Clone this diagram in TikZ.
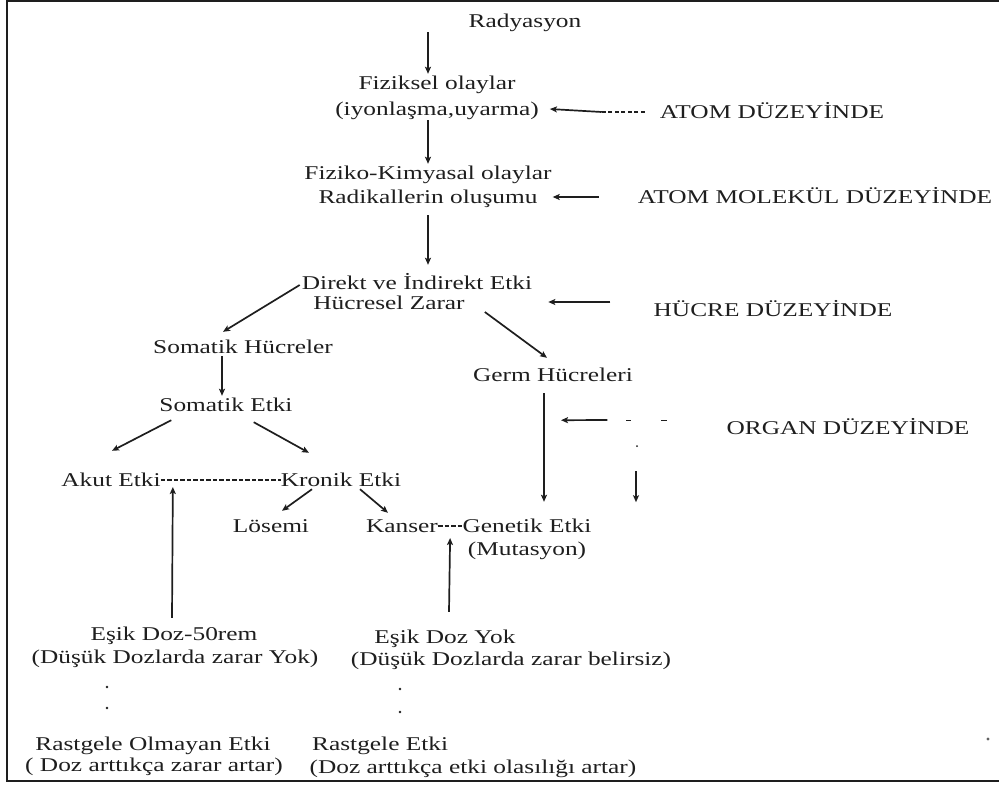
\documentclass[tikz,border=0pt]{standalone}
\usepackage{fontspec}
\setmainfont{Liberation Serif}[FakeStretch=1.3]
\usetikzlibrary{arrows.meta}
\definecolor{ink}{HTML}{1E1E1E}
\tikzset{
  lbl/.style={inner sep=0pt, text=ink, text height=15.5pt, text depth=2.5pt,
    font=\fontsize{19.5}{23}\selectfont},
  arr/.style={draw=ink, line width=1.7pt, -{Stealth[length=7pt,width=6pt,inset=1.5pt]}},
  link/.style={draw=ink, line width=1.4pt, dash pattern=on 4.5pt off 2pt},
  dotmark/.style={fill=ink}
}
\begin{document}
\begin{tikzpicture}[x=1pt,y=-1pt]
\useasboundingbox (0,0) rectangle (999,785);
% frame (open on the right)
\draw[ink, line width=2.2pt] (999,1) -- (7,1) -- (7,781) -- (999,781);

% main chain
\node[lbl] (rad)  at (525,21)  {Radyasyon};
\node[lbl] (fiz)  at (437,83)  {Fiziksel olaylar};
\node[lbl] (iyon) at (437,109) {(iyonlaşma,uyarma)};
\node[lbl] (fk)   at (428,173) {Fiziko-Kimyasal olaylar};
\node[lbl] (radk) at (428,197) {Radikallerin oluşumu};
\node[lbl] (dir)  at (417,283) {Direkt ve İndirekt Etki};
\node[lbl] (huc)  at (389,303) {Hücresel Zarar};
\node[lbl] (somh) at (243,347) {Somatik Hücreler};
\node[lbl] (germ) at (553,375) {Germ Hücreleri};
\node[lbl] (some) at (226,405) {Somatik Etki};
\node[lbl] (akut) at (111,480) {Akut Etki};
\node[lbl] (kron) at (341,480) {Kronik Etki};
\node[lbl] (los)  at (271,526) {Lösemi};
\node[lbl] (kans) at (402,526) {Kanser};
\node[lbl] (gen)  at (527,526) {Genetik Etki};
\node[lbl] (mut)  at (527,549) {(Mutasyon)};

% dose labels
\node[lbl] (esik1) at (174,634) {Eşik Doz-50rem};
\node[lbl] (duy1)  at (175,657) {(Düşük Dozlarda zarar Yok)};
\node[lbl] (esik2) at (445,637) {Eşik Doz Yok};
\node[lbl] (duy2)  at (511,659) {(Düşük Dozlarda zarar belirsiz)};
\node[lbl] (rast1) at (153,744) {Rastgele Olmayan Etki};
\node[lbl] (art1)  at (154,765) {( Doz arttıkça zarar artar)};
\node[lbl, anchor=west] (rast2) at (312,744) {Rastgele Etki};
\node[lbl] (art2)  at (473,767) {(Doz arttıkça etki olasılığı artar)};

% level labels
\node[lbl] (atom)  at (772,112) {ATOM DÜZEYİNDE};
\node[lbl] (mol)   at (815,197) {ATOM MOLEKÜL DÜZEYİNDE};
\node[lbl] (hucre) at (773,310) {HÜCRE DÜZEYİNDE};
\node[lbl] (organ) at (848,428) {ORGAN DÜZEYİNDE};

% vertical chain arrows
\draw[arr] ([yshift=-2pt]rad.south -| fk.center) -- (fiz.north -| fk.center);
\draw[arr] ([yshift=-2pt]iyon.south -| fk.center) -- (fk.north);
\draw[arr] ([yshift=-9pt]radk.south) -- ([yshift=9pt]dir.north -| radk.center);

% branches
\draw[arr] ([xshift=-2pt,yshift=-2pt]dir.west) -- ([xshift=-20pt,yshift=6pt]somh.north);
\draw[arr] ([xshift=20pt,yshift=-9pt]huc.east) -- ([xshift=-6pt,yshift=8pt]germ.north);
\draw[arr] ([xshift=-21pt]somh.south) -- ([xshift=-4pt]some.north);
\draw[arr] ([xshift=12pt,yshift=-6pt]some.south west) -- ([xshift=1pt,yshift=20pt]akut.north);
\draw[arr] ([xshift=-39pt,yshift=-8pt]some.south east) -- ([xshift=-32pt,yshift=18pt]kron.north);
\draw[arr] ([xshift=-29pt]kron.south) -- ([xshift=11pt,yshift=6pt]los.north);
\draw[arr] ([xshift=19pt]kron.south) -- ([xshift=-14pt,yshift=4pt]kans.north);
\draw[arr] ([xshift=-9pt,yshift=-9pt]germ.south) -- ([xshift=17pt,yshift=15pt]gen.north);

% dashed joins
\draw[link] (akut.east) -- (kron.west);
\draw[link] (kans.east) -- (gen.west);

% threshold arrows
\draw[arr] ([xshift=-2pt,yshift=7pt]esik1.north) -- ([xshift=12pt,yshift=-7pt]akut.east);
\draw[arr] ([xshift=4pt,yshift=16pt]esik2.north) -- ([xshift=12pt,yshift=-12pt]kans.east);

% dotted links to the effect types
\fill[dotmark] (107,687) circle (1.3pt) (107,708) circle (1.3pt);
\fill[dotmark] (400,689) circle (1.3pt) (400,712) circle (1.3pt);

% level pointers
\draw[link, dash pattern=on 4pt off 2.5pt] ([xshift=-15pt]atom.west) -- ([xshift=-58pt]atom.west);
\draw[arr] ([xshift=-58pt]atom.west) -- ([xshift=11pt]iyon.east);
\draw[arr] ([xshift=-39pt]mol.west) -- ([xshift=15pt]radk.east);
\draw[arr] ([xshift=-43pt,yshift=8pt]hucre.west) -- ([xshift=16pt,yshift=1pt]dir.east |- huc.center);
\draw[arr] ([xshift=-119pt,yshift=8pt]organ.west) -- ([xshift=8pt,yshift=-36pt]germ.south);
\draw[ink, line width=1.4pt] ([xshift=73pt,yshift=-36pt]germ.south) -- ([xshift=78pt,yshift=-36pt]germ.south);
\draw[ink, line width=1.4pt] ([xshift=108pt,yshift=-36pt]germ.south) -- ([xshift=114pt,yshift=-36pt]germ.south);
\fill[dotmark] ([xshift=84pt,yshift=-62pt]germ.south) circle (1pt);
\draw[arr] ([xshift=83pt,yshift=-87pt]germ.south) -- ([xshift=83pt,yshift=-118pt]germ.south);

% stray speck near the right edge
\fill[ink!70] (988,739) circle (1.6pt);
\end{tikzpicture}
\end{document}
